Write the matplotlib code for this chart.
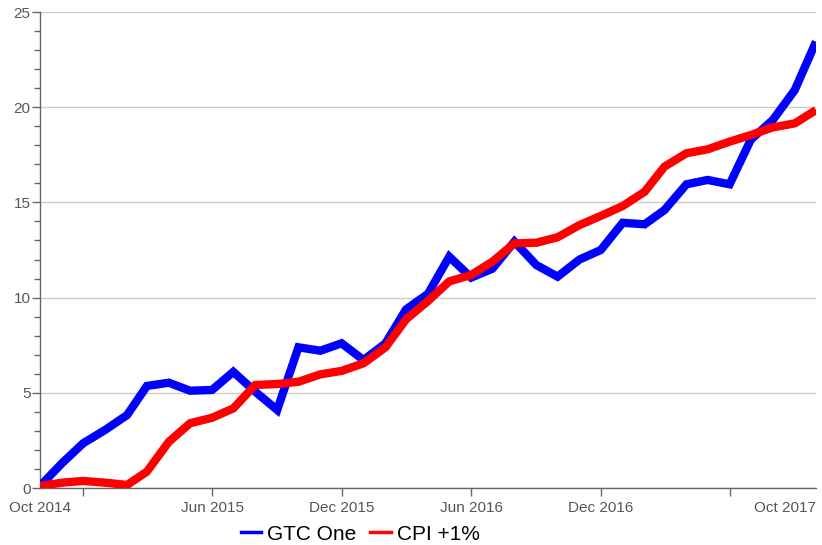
import matplotlib
matplotlib.use("Agg")
import matplotlib.pyplot as plt
from matplotlib.ticker import MultipleLocator
from matplotlib.lines import Line2D
import pandas as pd

plt.rcParams['font.family'] = ['Liberation Sans', 'DejaVu Sans']

months = pd.date_range("2014-10-01", "2017-10-01", freq="MS")

gtc_one = [0.1, 1.3, 2.35, 3.05, 3.83, 5.36, 5.53, 5.11, 5.15, 6.1, 5.06, 4.1,
           7.39, 7.21, 7.6, 6.72, 7.6, 9.38, 10.2, 12.15, 11.05, 11.52, 12.94,
           11.71, 11.1, 12.0, 12.5, 13.93, 13.85, 14.6, 15.95, 16.18, 15.95,
           18.3, 19.33, 20.9, 23.44]
cpi_plus_1 = [0.1, 0.28, 0.37, 0.28, 0.16, 0.86, 2.43, 3.4, 3.69, 4.18, 5.41,
              5.46, 5.58, 5.97, 6.15, 6.55, 7.39, 8.86, 9.82, 10.85, 11.19,
              11.89, 12.85, 12.88, 13.17, 13.81, 14.29, 14.81, 15.56, 16.88,
              17.58, 17.79, 18.19, 18.54, 18.94, 19.15, 19.85]

series_names = ["GTC One", "CPI +1%"]
series_colors = ["#0000ff", "#ff0000"]

tick_dates = pd.to_datetime(["2014-12-01", "2015-06-01", "2015-12-01",
                             "2016-06-01", "2016-12-01", "2017-06-01"])
tick_labels = ["", "Jun 2015", "Dec 2015", "Jun 2016", "Dec 2016", ""]
start_label = "Oct 2014"
end_label = "Oct 2017"

fig = plt.figure(figsize=(8.22, 5.45), dpi=100)
ax = fig.add_axes([40/822, 57/545, 776/822, 476/545])

for vals, name, col in zip([gtc_one, cpi_plus_1], series_names, series_colors):
    ax.plot(months, vals, color=col, lw=6, solid_joinstyle='miter',
            solid_capstyle='butt', label=name, zorder=3)

ax.set_xlim(months[0], months[-1])
ax.set_ylim(0, 25)

ax.yaxis.set_major_locator(MultipleLocator(5))
ax.yaxis.set_minor_locator(MultipleLocator(1))
ax.grid(axis='y', which='major', color='#cccccc', lw=1, zorder=0)
ax.set_axisbelow(True)

ax.set_xticks(tick_dates)
ax.set_xticklabels(tick_labels)

for s in ['top', 'right']:
    ax.spines[s].set_visible(False)
for s in ['left', 'bottom']:
    ax.spines[s].set_color('#666666')
    ax.spines[s].set_linewidth(1)

ax.tick_params(axis='both', which='major', colors='#666666', length=6, width=1,
               labelsize=11, labelcolor='#555555')
ax.tick_params(axis='y', which='minor', colors='#666666', length=4, width=1)
ax.tick_params(axis='y', which='major', pad=0.8)
ax.tick_params(axis='x', which='major', pad=3)

ax.text(months[0], -13/476, start_label, transform=ax.get_xaxis_transform(),
        ha='center', va='top', fontsize=11, color='#555555')
ax.text(1.0, -13/476, end_label, transform=ax.transAxes,
        ha='right', va='top', fontsize=11, color='#555555')

handles = [Line2D([], [], color=c, lw=2.5) for c in series_colors]
fig.legend(handles, series_names, loc='center', bbox_to_anchor=(360/822, 11/545),
           ncol=2, frameon=False, fontsize=15, handlelength=1.0,
           handletextpad=0.25, columnspacing=0.7, borderpad=0)

fig.savefig("out.png", dpi=100)
